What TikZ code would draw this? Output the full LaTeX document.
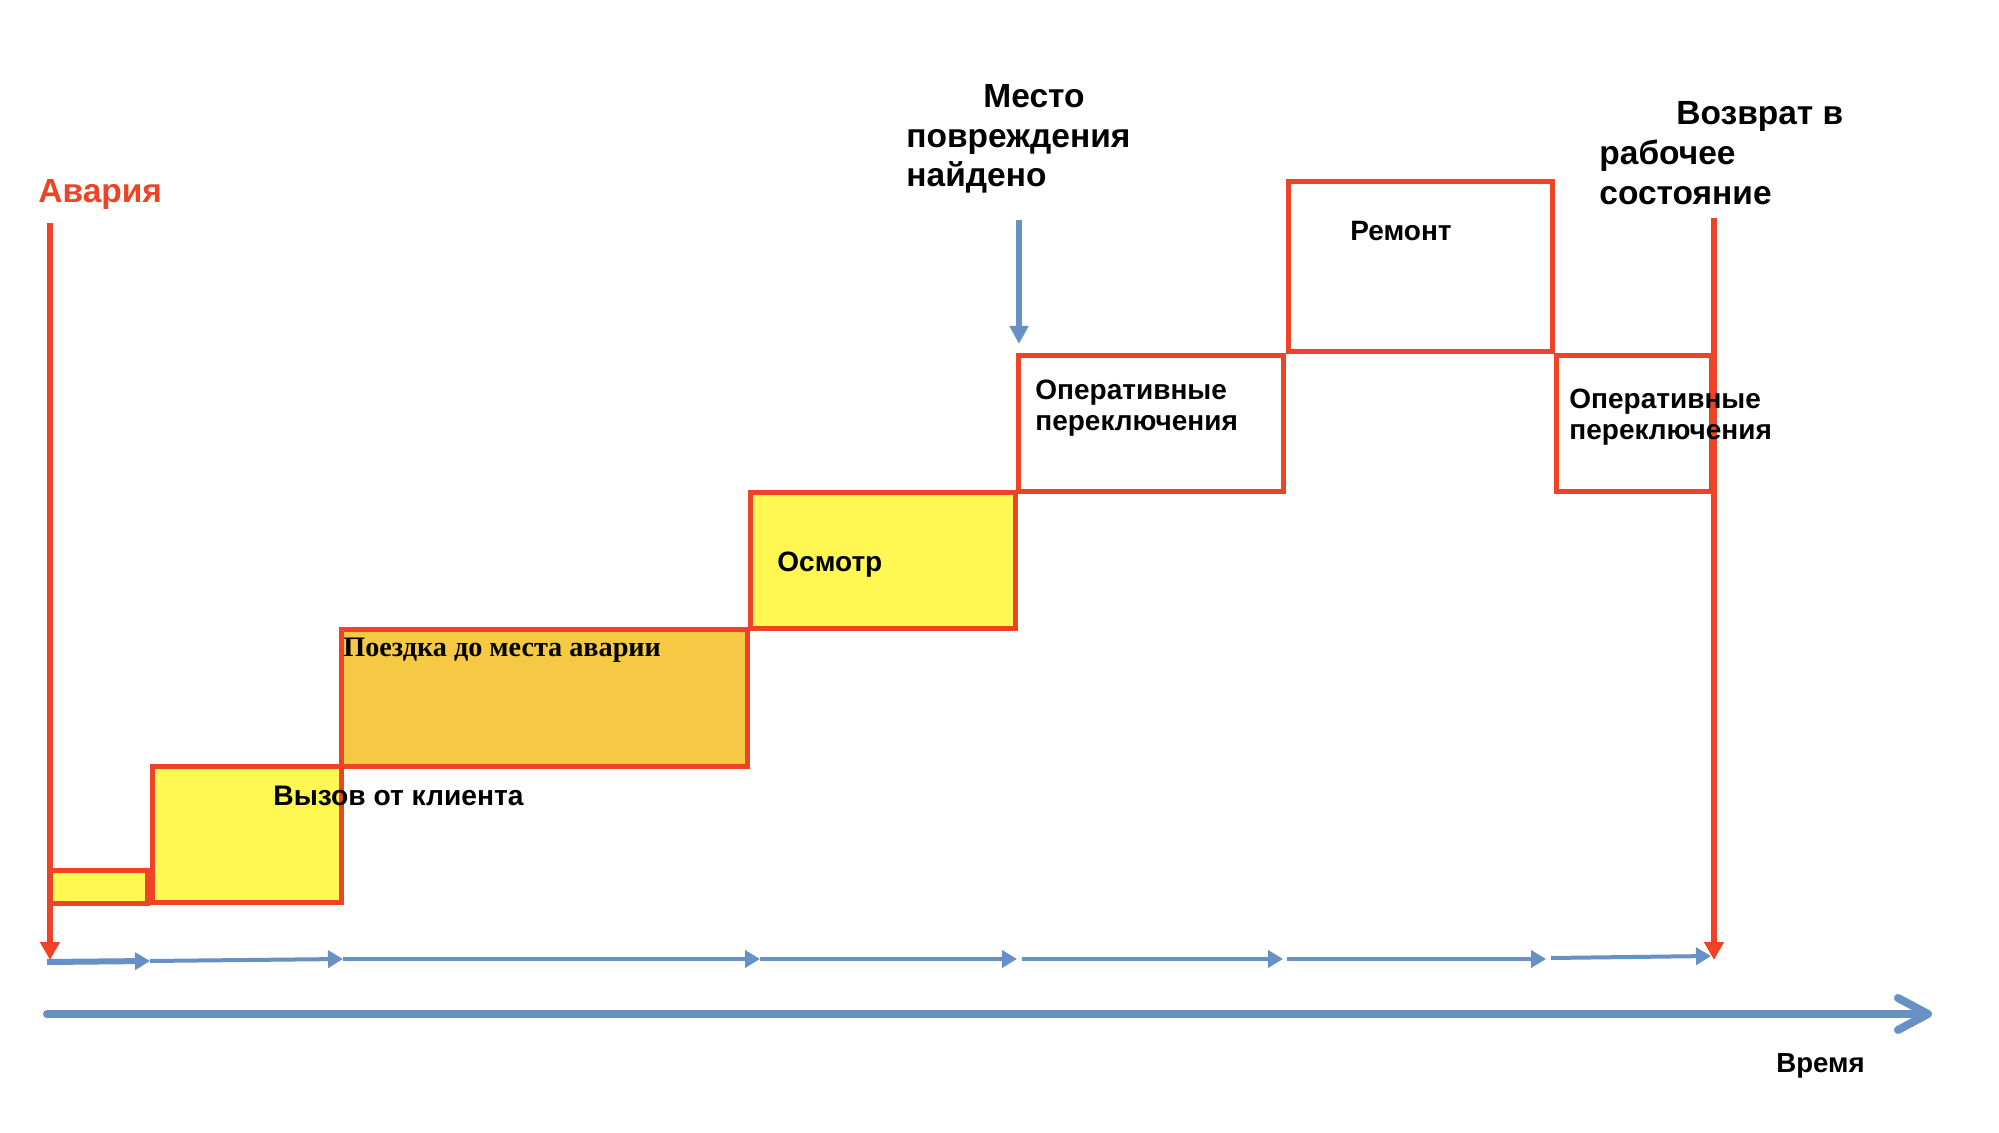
\documentclass[tikz,border=0pt]{standalone}
\usepackage{fontspec}
\setmainfont{Liberation Sans}
\newfontfamily\serifb{Liberation Serif}
\usetikzlibrary{arrows.meta}
\definecolor{rd}{HTML}{EE4325}
\definecolor{bl}{HTML}{6790C4}
\definecolor{yl}{HTML}{FFF752}
\definecolor{og}{HTML}{F6C945}
\begin{document}
\begin{tikzpicture}[x=0.5pt,y=-0.5pt,
  box/.style={draw=rd, line width=2.5pt, inner sep=0pt, outer sep=0pt, anchor=north west},
  lbl/.style={anchor=base west, inner sep=0pt},
  big/.style={lbl, font=\fontsize{16.75}{20}\selectfont\bfseries},
  mid/.style={lbl, font=\fontsize{14}{16}\selectfont\bfseries},
  sml/.style={lbl, font=\fontsize{14.1}{16}\selectfont\bfseries},
  redline/.style={draw=rd, line width=3pt, -{Triangle[length=9pt,width=9.5pt]}},
  seg/.style={draw=bl, line width=2pt, -{Triangle[length=7.5pt,width=8.5pt]}},
  axis/.style={draw=bl, line width=4pt, line cap=round, -{Straight Barb[length=15pt,width=16pt,round]}}]
\useasboundingbox (0,0) rectangle (1999,1133);
\fill[white] (0,0) rectangle (1999,1133);
% boxes
\node[box, fill=yl, minimum width=48.5pt, minimum height=16.5pt] (s0) at (50,871) {};
\node[box, fill=yl, minimum width=94.5pt, minimum height=68pt] (call) at (152,767) {};
\node[box, fill=og, minimum width=203pt, minimum height=68.5pt] (trip) at (341,630) {};
\node[box, fill=yl, minimum width=132.5pt, minimum height=68pt] (insp) at (750,493) {};
\node[box, fill=white, minimum width=132.5pt, minimum height=68pt] (op1) at (1018,356) {};
\node[box, fill=white, minimum width=132pt, minimum height=85pt] (rep) at (1288,182) {};
\node[box, fill=white, minimum width=77.5pt, minimum height=68pt] (op2) at (1556,356) {};
% coordinates
\coordinate (lt) at (50,223);
\coordinate (lb) at (50,960);
\coordinate (rt) at (1714,218);
\coordinate (rb) at (1714,960);
\coordinate (ft) at (1019,220);
\coordinate (fb) at (1019,344);
\coordinate (t0) at (47,962);
\coordinate (t1) at (150,961);
\coordinate (t2) at (343,959);
\coordinate (t3) at (760,959);
\coordinate (t4) at (1017,959);
\coordinate (t5s) at (1022,959);
\coordinate (t5) at (1283,959);
\coordinate (t6s) at (1287,959);
\coordinate (t6) at (1546,959);
\coordinate (t7s) at (1551,958);
\coordinate (t7) at (1711,956);
\coordinate (a0) at (47,1014);
\coordinate (a1) at (1932,1014);
% time segments
\draw[seg, line width=3pt] (t0) -- (t1);
\draw[seg] (t1) -- (t2);
\draw[seg] (t2) -- (t3);
\draw[seg] (t3) -- (t4);
\draw[seg] (t5s) -- (t5);
\draw[seg] (t6s) -- (t6);
\draw[seg] (t7s) -- (t7);
\draw[axis] (a0) -- (a1);
% vertical lines
\draw[redline] (lt) -- (lb);
\draw[redline] (rt) -- (rb);
\draw[draw=bl, line width=3pt, -{Triangle[length=9pt,width=9pt]}] (ft) -- (fb);
% labels
\node[big, text=rd] (avaria) at (38,203) {Авария};
\node[big] (m1) at (983,108) {Место};
\node[big] (m2) at (906,148) {повреждения};
\node[big] (m3) at (906,187) {найдено};
\node[big] (v1) at (1676,125) {Возврат в};
\node[big] (v2) at (1599,165) {рабочее};
\node[big] (v3) at (1599,205) {состояние};
\node[mid] (repl) at (1350,241) {Ремонт};
\node[mid] (o1a) at (1035,400) {Оперативные};
\node[mid] (o1b) at (1035,431) {переключения};
\node[mid] (o2a) at (1569,409) {Оперативные};
\node[mid] (o2b) at (1569,440) {переключения};
\node[mid] (inspl) at (777,572) {Осмотр};
\node[lbl, font=\fontsize{14.1}{16}\selectfont\serifb\bfseries] (tripl) at (343,657) {Поездка до места аварии};
\node[sml] (calll) at (273,806) {Вызов от клиента};
\node[lbl, font=\fontsize{13.8}{16}\selectfont\bfseries] (time) at (1776,1072) {Время};
\end{tikzpicture}
\end{document}
